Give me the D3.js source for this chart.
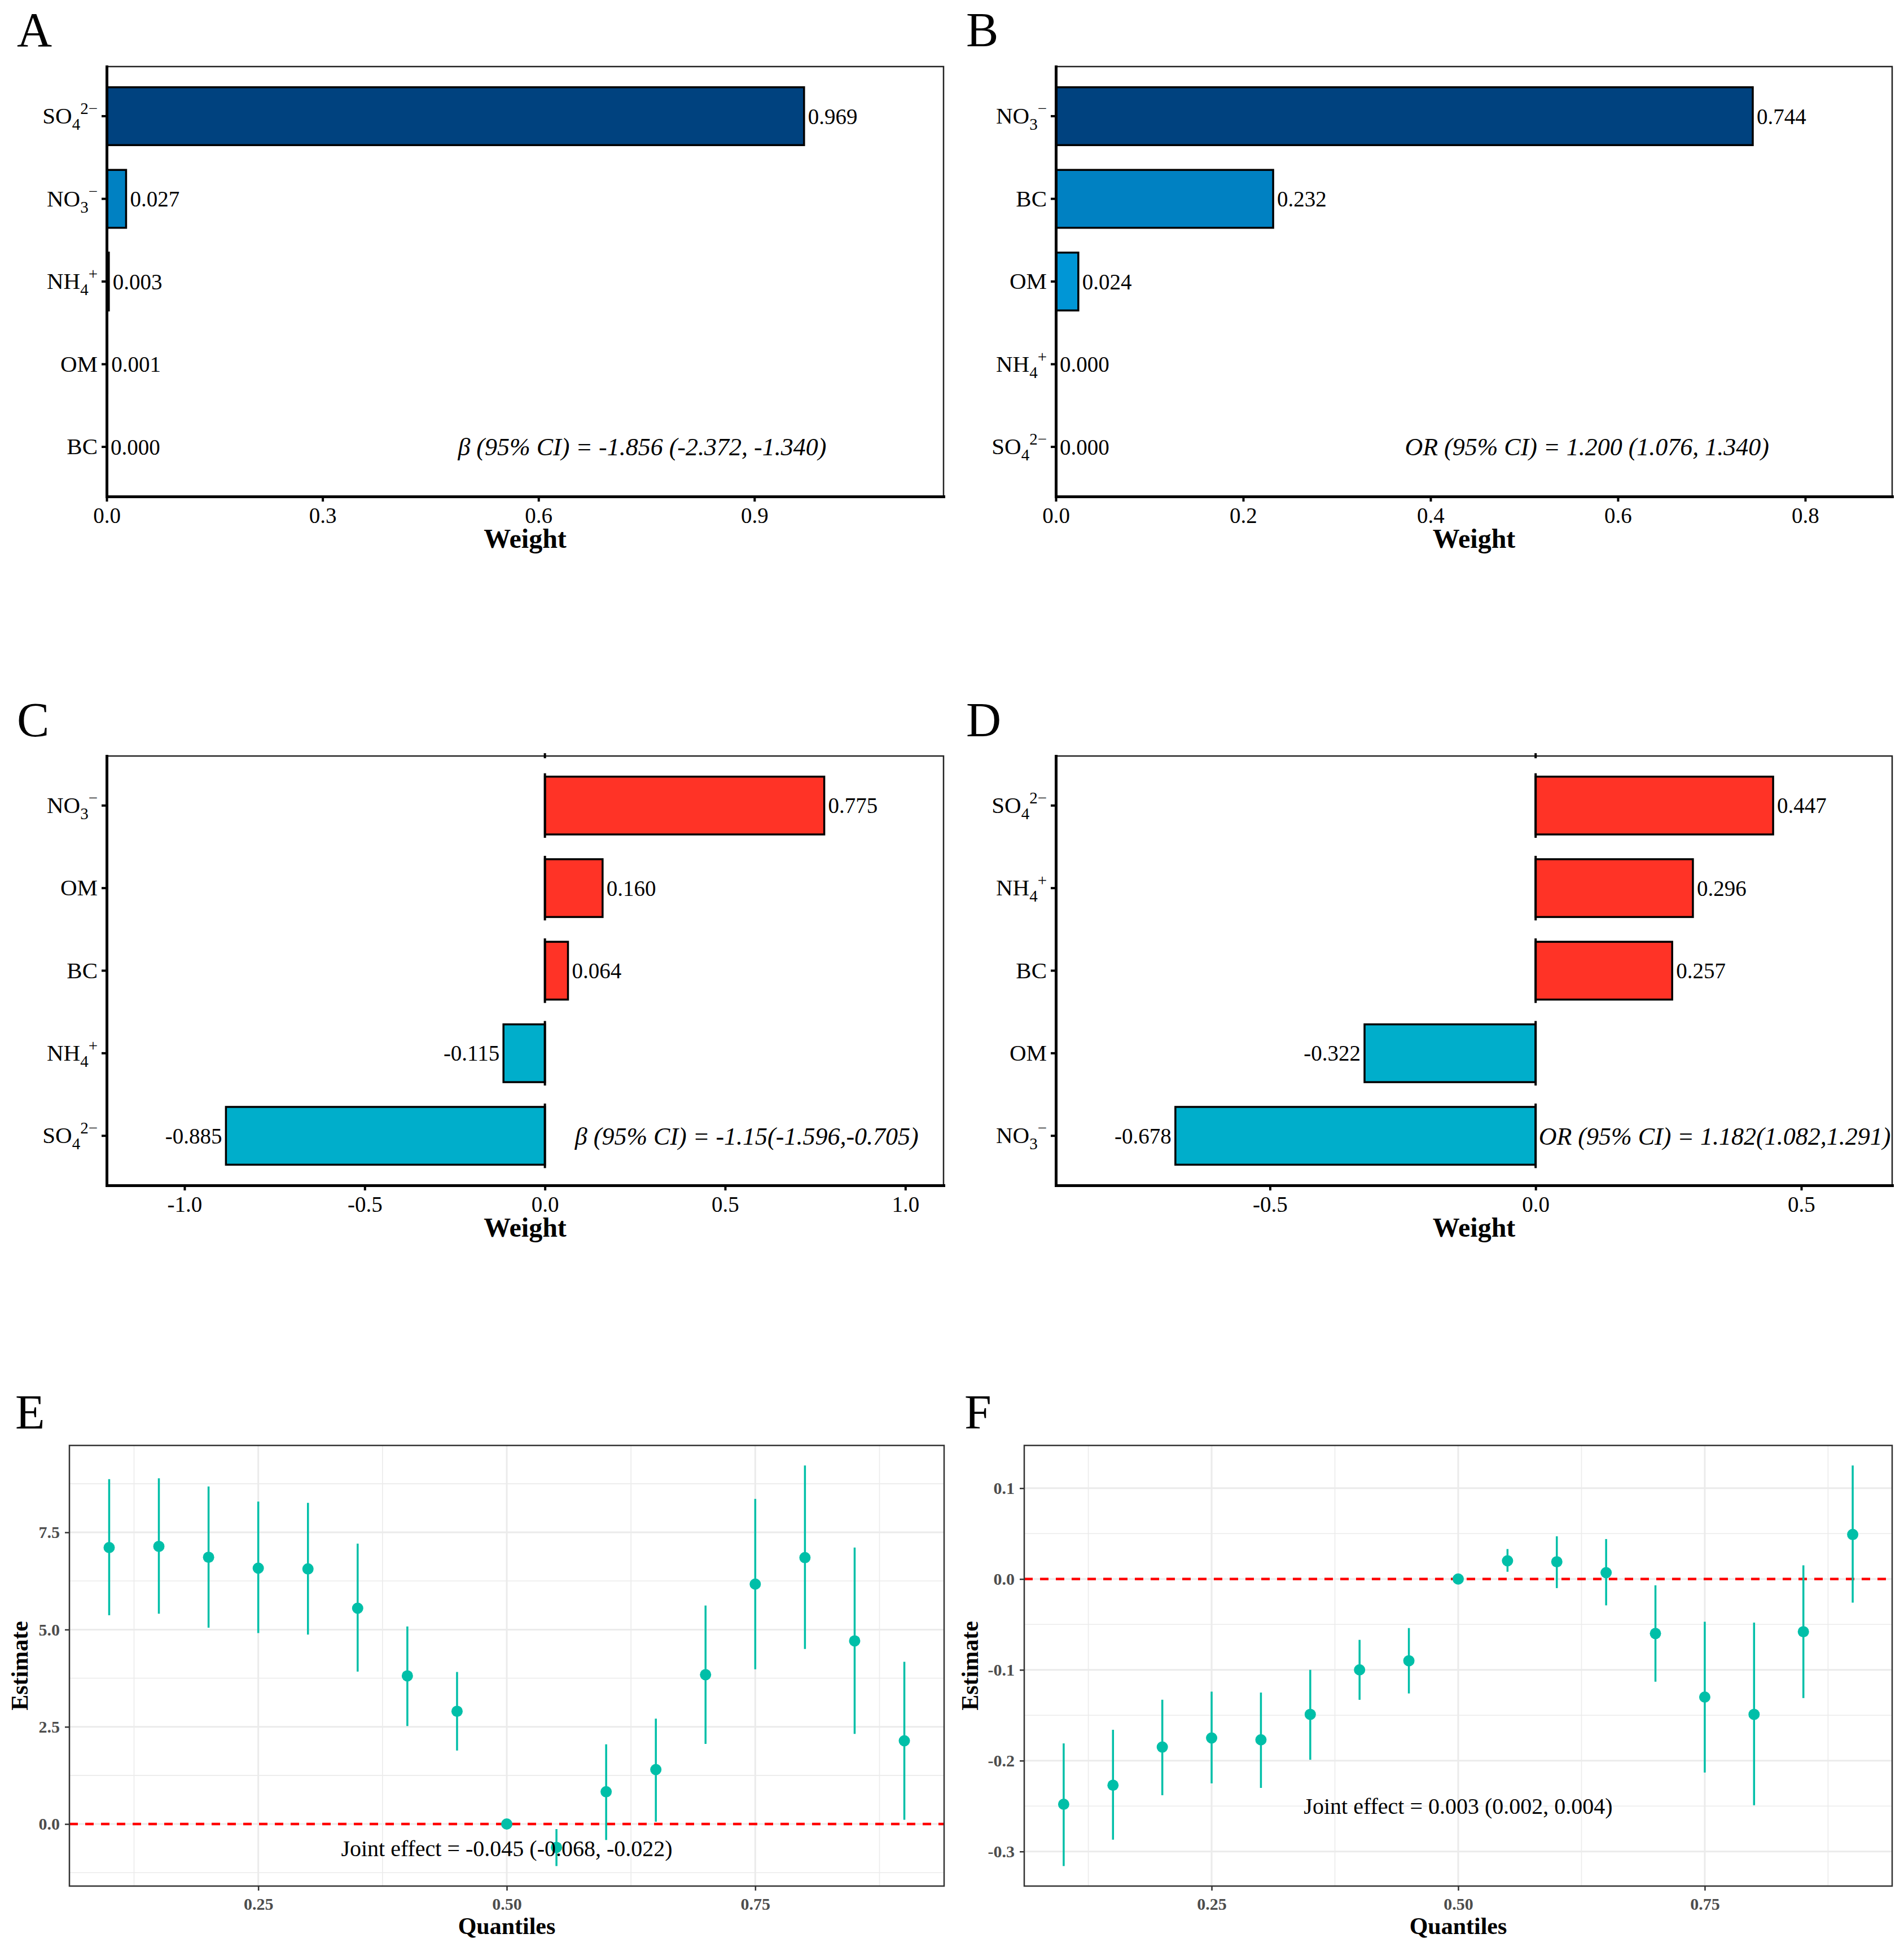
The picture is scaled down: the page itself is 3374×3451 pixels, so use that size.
<!DOCTYPE html>
<html>
<head>
<meta charset="utf-8">
<script src="https://cdn.jsdelivr.net/npm/d3@7"></script>
<style>
  body { margin: 0; background: #fff; }
  svg { display: block; }
  text { font-family: "Liberation Serif", "Times New Roman", serif; }
</style>
</head>
<body>
<div id="chart"></div>
<script>
// weights of the five components, top row first
var catsA = ["SO4", "NO3", "NH4", "OM", "BC"];
var weightsA = [0.969, 0.027, 0.003, 0.001, 0.000];
var catsB = ["NO3", "BC", "OM", "NH4", "SO4"];
var weightsB = [0.744, 0.232, 0.024, 0.000, 0.000];
var catsC = ["NO3", "OM", "BC", "NH4", "SO4"];
var weightsC = [0.775, 0.160, 0.064, -0.115, -0.885];
var catsD = ["SO4", "NH4", "BC", "OM", "NO3"];
var weightsD = [0.447, 0.296, 0.257, -0.322, -0.678];

var ticksA = [0, 0.3, 0.6, 0.9];
var ticksB = [0, 0.2, 0.4, 0.6, 0.8];
var ticksC = [-1, -0.5, 0, 0.5, 1];
var ticksD = [-0.5, 0, 0.5];

// quantile g-computation estimates
var quantiles = [0.10, 0.15, 0.20, 0.25, 0.30, 0.35, 0.40, 0.45, 0.50,
                 0.55, 0.60, 0.65, 0.70, 0.75, 0.80, 0.85, 0.90];
var estE  = [7.11, 7.14, 6.86, 6.58, 6.56, 5.55, 3.81, 2.90, 0, -0.60, 0.83, 1.40, 3.84, 6.17, 6.85, 4.71, 2.14];
var lowE  = [5.37, 5.41, 5.05, 4.91, 4.87, 3.92, 2.52, 1.89, 0, -1.08, -0.41, 0.06, 2.06, 3.98, 4.50, 2.32, 0.11];
var highE = [8.87, 8.89, 8.68, 8.29, 8.26, 7.21, 5.08, 3.91, 0, -0.13, 2.05, 2.71, 5.62, 8.36, 9.22, 7.11, 4.17];
var estF  = [-0.248, -0.227, -0.185, -0.175, -0.177, -0.149, -0.100, -0.090, 0, 0.020, 0.019, 0.007, -0.060, -0.130, -0.149, -0.058, 0.049];
var lowF  = [-0.316, -0.287, -0.238, -0.225, -0.230, -0.199, -0.133, -0.126, 0, 0.008, -0.010, -0.029, -0.113, -0.213, -0.249, -0.131, -0.026];
var highF = [-0.181, -0.166, -0.133, -0.124, -0.125, -0.100, -0.067, -0.054, 0, 0.033, 0.047, 0.044, -0.007, -0.047, -0.048, 0.015, 0.125];
var ticksQx = [0.25, 0.50, 0.75];
var ticksEy = [0, 2.5, 5, 7.5];
var ticksFy = [-0.3, -0.2, -0.1, 0, 0.1];

var width = 3374, height = 3451;

var blues = ["#00427F", "#0081C2", "#0096D6", "#35A9E0", "#6BC0EA"];
var posCol = "#FF3326", negCol = "#00AECB", dotCol = "#00BFA8";

var loc = d3.formatLocale({decimal: ".", thousands: ",", grouping: [3], currency: ["", ""], minus: "-"});
var f1 = loc.format(".1f"), f2 = loc.format(".2f"), f3 = loc.format(".3f");

// chemical formula pieces: [text, kind]
var chem = {
  SO4: [["SO"], ["4", "sub"], ["2\u2212", "sup"]],
  NO3: [["NO"], ["3", "sub"], ["\u2212", "sup"]],
  NH4: [["NH"], ["4", "sub"], ["+", "sup"]],
  OM: [["OM"]],
  BC: [["BC"]]
};

var svg = d3.select("#chart").append("svg")
    .attr("width", width)
    .attr("height", height)
    .style("background", "#fff");

function writeChem(textSel, key) {
  textSel.text("");
  var shift = 0;
  chem[key].forEach(function(part) {
    var t = textSel.append("tspan").text(part[0]);
    if (part[1] == "sub") {
      t.attr("font-size", 29).attr("dy", 11 - shift);
      shift = 11;
    } else if (part[1] == "sup") {
      t.attr("font-size", 29).attr("dy", -17 - shift);
      shift = -17;
    }
  });
}

function panelLetter(letter, x, y) {
  svg.append("text").attr("x", x).attr("y", y)
    .attr("font-size", 86).attr("fill", "#000").text(letter);
}

function barPanel(p) {
  var g = svg.append("g");
  var x = d3.scaleLinear().domain(p.xDomain).range([p.left, p.right]);
  var y = d3.scaleBand().domain(p.cats).range([p.top, p.bottom])
      .paddingInner(0.3).paddingOuter(0.25);
  var bw = y.bandwidth();
  var rows = p.cats.map(function(c, i) { return {cat: c, w: p.weights[i], i: i}; });

  // thin frame on top and right
  g.append("path")
    .attr("d", "M" + p.left + "," + p.top + "H" + p.right + "V" + p.bottom)
    .attr("fill", "none").attr("stroke", "#222").attr("stroke-width", 2.5);

  g.selectAll("rect.bar").data(rows).enter().append("rect")
    .attr("class", "bar")
    .attr("x", function(d) { return x(Math.min(0, d.w)); })
    .attr("y", function(d) { return y(d.cat); })
    .attr("width", function(d) { return Math.abs(x(d.w) - x(0)); })
    .attr("height", bw)
    .attr("fill", function(d) { return p.diverging ? (d.w >= 0 ? posCol : negCol) : blues[d.i]; })
    .attr("stroke", "#000")
    .attr("stroke-width", 3.5);

  if (p.diverging) {
    g.selectAll("line.zero").data(rows).enter().append("line")
      .attr("x1", x(0)).attr("x2", x(0))
      .attr("y1", function(d) { return y(d.cat) - 6; })
      .attr("y2", function(d) { return y(d.cat) + bw + 6; })
      .attr("stroke", "#000").attr("stroke-width", 4);
    g.append("line").attr("x1", x(0)).attr("x2", x(0))
      .attr("y1", p.top - 5).attr("y2", p.top + 4)
      .attr("stroke", "#000").attr("stroke-width", 4);
  }

  g.selectAll("text.val").data(rows).enter().append("text")
    .attr("class", "val")
    .attr("x", function(d) { return d.w >= 0 ? x(d.w) + 7 : x(d.w) - 7; })
    .attr("y", function(d) { return y(d.cat) + bw / 2; })
    .attr("dy", "0.35em")
    .attr("text-anchor", function(d) { return d.w >= 0 ? "start" : "end"; })
    .attr("font-size", 39)
    .text(function(d) { return f3(d.w); });

  var ax = g.append("g").attr("transform", "translate(0," + p.bottom + ")")
    .call(d3.axisBottom(x).tickValues(p.ticks).tickSize(9).tickSizeOuter(0).tickFormat(f1));
  ax.select(".domain").attr("stroke", "#000").attr("stroke-width", 5).attr("stroke-linecap", "square");
  ax.selectAll(".tick line").attr("stroke", "#000").attr("stroke-width", 4);
  ax.selectAll(".tick text").attr("font-size", 39).attr("fill", "#000").attr("y", 19);

  var ay = g.append("g").attr("transform", "translate(" + p.left + ",0)")
    .call(d3.axisLeft(y).tickSize(9).tickSizeOuter(0));
  ay.select(".domain").attr("stroke", "#000").attr("stroke-width", 5).attr("stroke-linecap", "square");
  ay.selectAll(".tick line").attr("stroke", "#000").attr("stroke-width", 4);
  ay.selectAll(".tick text").attr("font-size", 41).attr("fill", "#000").attr("x", -16)
    .each(function(d) { writeChem(d3.select(this), d); });

  g.append("text")
    .attr("x", x(p.annX))
    .attr("y", y(p.cats[p.cats.length - 1]) + bw / 2)
    .attr("dy", "0.35em")
    .attr("text-anchor", "middle")
    .attr("font-style", "italic")
    .attr("font-size", 44)
    .text(p.ann);

  g.append("text")
    .attr("x", (p.left + p.right) / 2).attr("y", p.bottom + 91)
    .attr("text-anchor", "middle").attr("font-size", 48).attr("font-weight", "bold")
    .text("Weight");
}

function minorOf(ticks, dom) {
  var step = ticks[1] - ticks[0];
  var m = [ticks[0] - step / 2].concat(ticks.map(function(t) { return t + step / 2; }));
  return m.filter(function(v) { return v > dom[0] && v < dom[1]; });
}

function dotPanel(p) {
  var g = svg.append("g");
  var xe = d3.extent(quantiles), xpad = (xe[1] - xe[0]) * 0.05;
  var x = d3.scaleLinear().domain([xe[0] - xpad, xe[1] + xpad]).range([p.left, p.right]);
  var ye = d3.extent(p.low.concat(p.high)), ypad = (ye[1] - ye[0]) * 0.05;
  var y = d3.scaleLinear().domain([ye[0] - ypad, ye[1] + ypad]).range([p.bottom, p.top]);

  // grid: minor then major
  g.selectAll("line.vminor").data(minorOf(ticksQx, x.domain())).enter().append("line")
    .attr("x1", x).attr("x2", x).attr("y1", p.top).attr("y2", p.bottom)
    .attr("stroke", "#EBEBEB").attr("stroke-width", 1.6);
  g.selectAll("line.hminor").data(minorOf(p.yTicks, y.domain())).enter().append("line")
    .attr("y1", y).attr("y2", y).attr("x1", p.left).attr("x2", p.right)
    .attr("stroke", "#EBEBEB").attr("stroke-width", 1.6);
  g.selectAll("line.vmajor").data(ticksQx).enter().append("line")
    .attr("x1", x).attr("x2", x).attr("y1", p.top).attr("y2", p.bottom)
    .attr("stroke", "#EBEBEB").attr("stroke-width", 3);
  g.selectAll("line.hmajor").data(p.yTicks).enter().append("line")
    .attr("y1", y).attr("y2", y).attr("x1", p.left).attr("x2", p.right)
    .attr("stroke", "#EBEBEB").attr("stroke-width", 3);

  g.append("line")
    .attr("x1", p.left).attr("x2", p.right).attr("y1", y(0)).attr("y2", y(0))
    .attr("stroke", "#FF0000").attr("stroke-width", 4.5).attr("stroke-dasharray", "15,13");

  var rows = quantiles.map(function(q, i) { return {q: q, est: p.est[i], lo: p.low[i], hi: p.high[i]}; });
  g.selectAll("line.ci").data(rows).enter().append("line")
    .attr("x1", function(d) { return x(d.q); }).attr("x2", function(d) { return x(d.q); })
    .attr("y1", function(d) { return y(d.lo); }).attr("y2", function(d) { return y(d.hi); })
    .attr("stroke", dotCol).attr("stroke-width", 3.5);
  g.selectAll("circle.pt").data(rows).enter().append("circle")
    .attr("cx", function(d) { return x(d.q); })
    .attr("cy", function(d) { return y(d.est); })
    .attr("r", 10).attr("fill", dotCol);

  g.append("rect")
    .attr("x", p.left).attr("y", p.top)
    .attr("width", p.right - p.left).attr("height", p.bottom - p.top)
    .attr("fill", "none").attr("stroke", "#333").attr("stroke-width", 2.5);

  var ax = g.append("g").attr("transform", "translate(0," + p.bottom + ")")
    .call(d3.axisBottom(x).tickValues(ticksQx).tickSize(8).tickSizeOuter(0).tickFormat(f2));
  ax.select(".domain").remove();
  ax.selectAll(".tick line").attr("stroke", "#333").attr("stroke-width", 2.5);
  ax.selectAll(".tick text").attr("font-size", 30).attr("font-weight", "bold")
    .attr("fill", "#4D4D4D").attr("y", 21);

  var ay = g.append("g").attr("transform", "translate(" + p.left + ",0)")
    .call(d3.axisLeft(y).tickValues(p.yTicks).tickSize(8).tickSizeOuter(0).tickFormat(f1));
  ay.select(".domain").remove();
  ay.selectAll(".tick line").attr("stroke", "#333").attr("stroke-width", 2.5);
  ay.selectAll(".tick text").attr("font-size", 30).attr("font-weight", "bold")
    .attr("fill", "#4D4D4D").attr("x", -17);

  g.append("text")
    .attr("x", x(0.5)).attr("y", y(p.annY)).attr("dy", "0.35em")
    .attr("text-anchor", "middle").attr("font-size", 40)
    .text(p.ann);

  g.append("text")
    .attr("x", (p.left + p.right) / 2).attr("y", p.bottom + 85)
    .attr("text-anchor", "middle").attr("font-size", 42).attr("font-weight", "bold")
    .text("Quantiles");
  g.append("text")
    .attr("transform", "translate(" + (p.left - p.titleGap) + "," + ((p.top + p.bottom) / 2) + ") rotate(-90)")
    .attr("text-anchor", "middle").attr("font-size", 42).attr("font-weight", "bold")
    .text("Estimate");
}

barPanel({cats: catsA, weights: weightsA, ticks: ticksA, xDomain: [0, 0.969 * 1.2],
  left: 189, right: 1672, top: 118, bottom: 880, diverging: false, annX: 0.744,
  ann: "\u03B2 (95% CI) = -1.856 (-2.372, -1.340)"});
barPanel({cats: catsB, weights: weightsB, ticks: ticksB, xDomain: [0, 0.744 * 1.2],
  left: 1871, right: 3353, top: 118, bottom: 880, diverging: false, annX: 0.567,
  ann: "OR (95% CI) = 1.200 (1.076, 1.340)"});
barPanel({cats: catsC, weights: weightsC, ticks: ticksC, xDomain: [-1.216, 1.106],
  left: 189, right: 1672, top: 1340, bottom: 2101, diverging: true, annX: 0.56,
  ann: "\u03B2 (95% CI) = -1.15(-1.596,-0.705)"});
barPanel({cats: catsD, weights: weightsD, ticks: ticksD, xDomain: [-0.903, 0.671],
  left: 1871, right: 3353, top: 1340, bottom: 2101, diverging: true, annX: 0.337,
  ann: "OR (95% CI) = 1.182(1.082,1.291)"});

dotPanel({est: estE, low: lowE, high: highE, yTicks: ticksEy,
  left: 123, right: 1673, top: 2562, bottom: 3343, titleGap: 74, annY: -0.62,
  ann: "Joint effect = -0.045 (-0.068, -0.022)"});
dotPanel({est: estF, low: lowF, high: highF, yTicks: ticksFy,
  left: 1815, right: 3353, top: 2562, bottom: 3343, titleGap: 82, annY: -0.25,
  ann: "Joint effect = 0.003 (0.002, 0.004)"});

panelLetter("A", 30, 82);
panelLetter("B", 1712, 82);
panelLetter("C", 30, 1305);
panelLetter("D", 1712, 1305);
panelLetter("E", 27, 2532);
panelLetter("F", 1709, 2532);
</script>
</body>
</html>
